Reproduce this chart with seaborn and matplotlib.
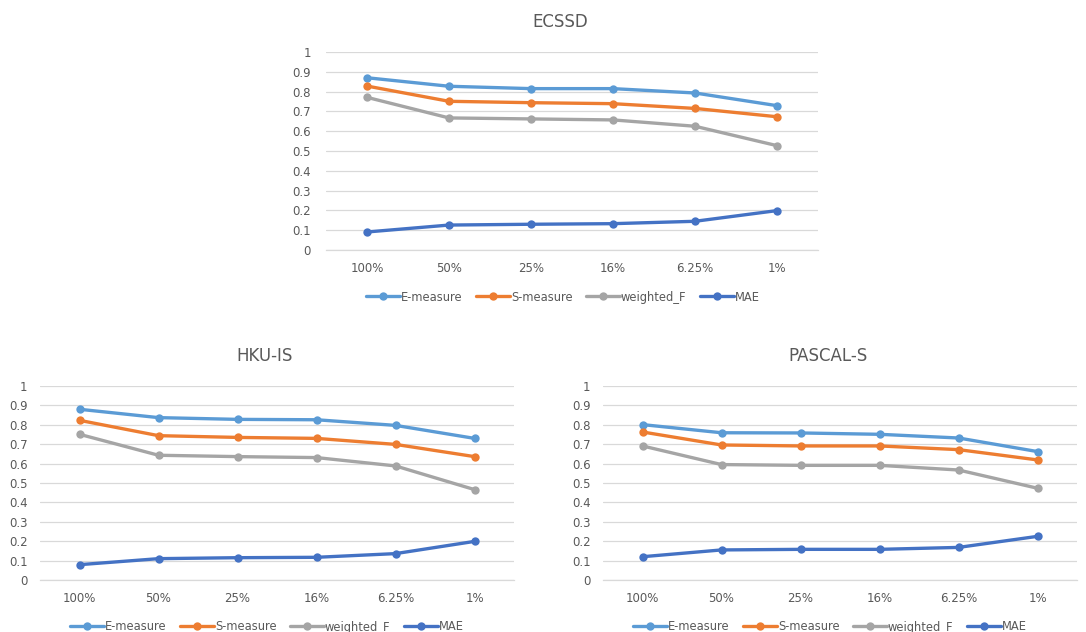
import matplotlib
matplotlib.use("Agg")
import matplotlib.pyplot as plt
import seaborn as sns
import pandas as pd

categories = ["100%", "50%", "25%", "16%", "6.25%", "1%"]
metrics = ["E-measure", "S-measure", "weighted_F", "MAE"]

ecssd_e = [0.870, 0.827, 0.815, 0.815, 0.793, 0.729]
ecssd_s = [0.828, 0.751, 0.744, 0.739, 0.715, 0.673]
ecssd_f = [0.771, 0.667, 0.662, 0.657, 0.625, 0.527]
ecssd_mae = [0.091, 0.126, 0.130, 0.133, 0.145, 0.199]

hku_e = [0.880, 0.837, 0.828, 0.826, 0.797, 0.730]
hku_s = [0.823, 0.744, 0.735, 0.730, 0.699, 0.636]
hku_f = [0.751, 0.643, 0.636, 0.631, 0.588, 0.466]
hku_mae = [0.079, 0.110, 0.115, 0.117, 0.136, 0.199]

pascal_e = [0.801, 0.759, 0.758, 0.751, 0.732, 0.662]
pascal_s = [0.763, 0.696, 0.691, 0.691, 0.672, 0.619]
pascal_f = [0.691, 0.595, 0.591, 0.591, 0.567, 0.473]
pascal_mae = [0.120, 0.155, 0.158, 0.158, 0.168, 0.225]

yticks = [0, 0.1, 0.2, 0.3, 0.4, 0.5, 0.6, 0.7, 0.8, 0.9, 1]
ytick_labels = ["0", "0.1", "0.2", "0.3", "0.4", "0.5", "0.6", "0.7", "0.8", "0.9", "1"]

palette = {"E-measure": "#5B9BD5", "S-measure": "#ED7D31",
           "weighted_F": "#A5A5A5", "MAE": "#4472C4"}
TXT = "#595959"
GRID = "#D9D9D9"

sns.set_theme(style="white")
plt.rcParams["font.family"] = ["DejaVu Sans"]

W, H = 1086, 632
fig = plt.figure(figsize=(W / 100, H / 100), dpi=100)
fig.patch.set_facecolor("white")


def make_df(series):
    rows = []
    for m, vals in zip(metrics, series):
        for c, v in zip(categories, vals):
            rows.append({"cat": c, "metric": m, "value": v})
    return pd.DataFrame(rows)


def panel(left, right, top, bottom, title, title_x, title_y, series, leg_x, leg_y, ypad):
    ax = fig.add_axes([left / W, 1 - bottom / H, (right - left) / W, (bottom - top) / H])
    df = make_df(series)
    df["x"] = df["cat"].map({c: i for i, c in enumerate(categories)})
    sns.lineplot(data=df, x="x", y="value", hue="metric", hue_order=metrics,
                 palette=palette, marker="o", markersize=6, markeredgewidth=0,
                 linewidth=2.4, ax=ax, legend=True, clip_on=False, zorder=3)
    ax.set_xlim(-0.5, 5.5)
    ax.set_ylim(0, 1)
    ax.set_xticks(range(len(categories)))
    ax.set_xticklabels(categories)
    ax.set_yticks(yticks)
    ax.set_yticklabels(ytick_labels)
    ax.set_xlabel("")
    ax.set_ylabel("")
    ax.grid(axis="y", color=GRID, linewidth=0.9)
    ax.set_axisbelow(True)
    for s in ["top", "right", "left"]:
        ax.spines[s].set_visible(False)
    ax.spines["bottom"].set_color(GRID)
    ax.spines["bottom"].set_linewidth(0.9)
    ax.tick_params(axis="both", length=0, labelsize=8.5, colors=TXT)
    ax.tick_params(axis="y", pad=ypad)
    ax.tick_params(axis="x", pad=9)
    handles, labels = ax.get_legend_handles_labels()
    ax.get_legend().remove()
    fig.text(title_x / W, 1 - title_y / H, title, ha="center", va="center",
             fontsize=12, color=TXT)
    leg = fig.legend(handles, labels, loc="center", ncol=4,
                     bbox_to_anchor=(leg_x / W, 1 - leg_y / H), frameon=False,
                     fontsize=8.3, handlelength=2.9, handletextpad=0.1,
                     columnspacing=1.2, labelcolor=TXT)
    for h in leg.legend_handles:
        h.set_linewidth(2.4)
    return ax


panel(326, 818, 52, 250, "ECSSD", 560, 22,
      [ecssd_e, ecssd_s, ecssd_f, ecssd_mae], 563, 297, 11)
panel(40, 514, 386, 580, "HKU-IS", 265, 356,
      [hku_e, hku_s, hku_f, hku_mae], 267, 627, 9)
panel(603, 1077, 386, 580, "PASCAL-S", 828, 356,
      [pascal_e, pascal_s, pascal_f, pascal_mae], 830, 627, 9)

fig.savefig("out.png", dpi=100)
